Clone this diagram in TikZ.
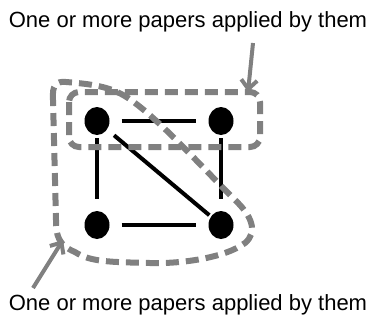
\documentclass[tikz,border=0pt]{standalone}
\usepackage{fontspec}
\setmainfont{Liberation Sans}
\usetikzlibrary{arrows.meta,shapes.geometric}
\definecolor{grp}{RGB}{128,128,128}
\begin{document}
\begin{tikzpicture}[x=1pt,y=-1pt,
  vtx/.style={ellipse,fill=black,minimum width=25pt,minimum height=28pt,inner sep=0pt},
  edge/.style={line width=4pt,black},
  grpline/.style={draw=grp,line width=6pt,dash pattern=on 13pt off 7pt},
  pointer/.style={draw=grp,line width=4pt,-{Straight Barb[length=9pt,width=16pt,line width=4pt]}},
  lbl/.style={font=\fontsize{22}{24}\selectfont,inner sep=0pt}]
\useasboundingbox (0,0) rectangle (374,322);
\node[vtx] (tl) at (97,121) {};
\node[vtx] (tr) at (221,121) {};
\node[vtx] (bl) at (97,225) {};
\node[vtx] (br) at (221,225) {};
\draw[edge,shorten <=12pt,shorten >=12pt] (tl) -- (tr);
\draw[edge,shorten <=3pt,shorten >=12pt] (tl) -- (bl);
\draw[edge,shorten <=3pt,shorten >=12pt] (tr) -- (br);
\draw[edge,shorten <=9pt,shorten >=2pt] (tl) -- (br);
\draw[edge,shorten <=12pt,shorten >=12pt] (bl) -- (br);
\draw[grpline,rounded corners=10pt] (69,92) rectangle (260,147);
\draw[grpline] (53,100) .. controls (52,85) and (56,81) .. (66,82)
  .. controls (90,84) and (110,86) .. (128,98)
  .. controls (158,118) and (200,165) .. (235,200)
  .. controls (252,216) and (258,232) .. (245,243)
  .. controls (225,258) and (180,264) .. (150,263)
  .. controls (110,262) and (90,262) .. (75,252)
  .. controls (58,245) and (56,235) .. (56,220)
  -- cycle;
\coordinate (t1) at (253,43);
\coordinate (t2) at (248,92);
\coordinate (b1) at (33,288);
\coordinate (b2) at (63,240);
\draw[pointer] (t1) -- (t2);
\draw[pointer] (b1) -- (b2);
\node[lbl] (top) at (188,22) {One or more papers applied by them};
\node[lbl] (bot) at (188,305) {One or more papers applied by them};
\end{tikzpicture}
\end{document}
